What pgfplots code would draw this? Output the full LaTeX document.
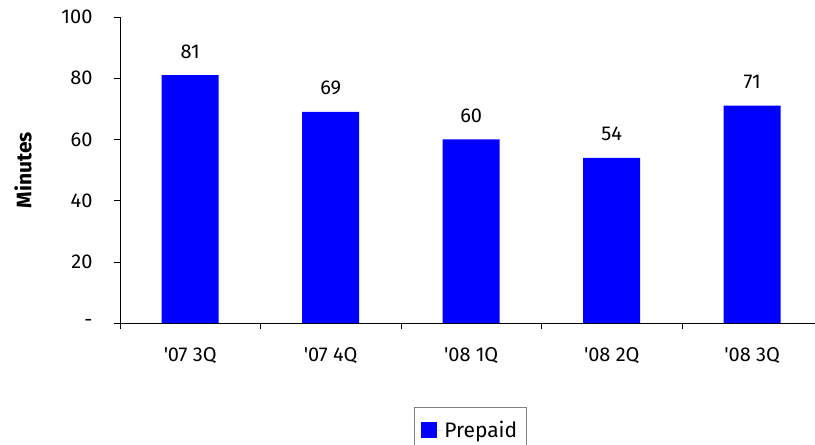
\documentclass[border=0pt]{standalone}
\usepackage{pgfplots}
\pgfplotsset{compat=1.18}
\usepackage{fontspec}
\setmainfont{Fira Sans}
\newfontfamily\fira{Fira Sans}
\definecolor{barblue}{HTML}{0000FF}
\begin{document}
\fira
\begin{tikzpicture}
\useasboundingbox (-120pt,-122pt) rectangle (695pt,323pt);
\begin{axis}[
  at={(0pt,0pt)}, anchor=south west,
  scale only axis,
  width=695pt, height=306pt,
  xmin=-0.5, xmax=4.447,
  ymin=0, ymax=100,
  axis lines*=left,
  axis line style={black, line width=0.6pt},
  ybar, bar width=57pt,
  xtick={-0.5,0.5,1.5,2.5,3.5},
  xticklabels={},
  extra x ticks={0,1,2,3,4},
  extra x tick labels={'07 3Q,'07 4Q,'08 1Q,'08 2Q,'08 3Q},
  extra x tick style={major tick length=0pt, grid=none},
  ytick={0,20,40,60,80,100},
  yticklabels={-,20,40,60,80,100},
  tick style={black, line width=0.6pt},
  major tick length=6pt, tick align=outside,
  tick label style={font=\fira\fontsize{20}{24}\selectfont},
  /pgf/number format/assume math mode=true,
  xticklabel style={yshift=-21pt},
  yticklabel style={xshift=-18pt},
  ylabel={Minutes},
  ylabel style={font=\fira\fontsize{21}{25}\selectfont\bfseries, at={(axis description cs:-0.1396,0.5)}, anchor=center, rotate=0},
  nodes near coords,
  every node near coord/.append style={font=\fira\fontsize{20}{24}\selectfont, anchor=base, yshift=17pt, black},
  legend style={at={(axis description cs:0.504,-0.274)}, anchor=north, draw=gray, line width=0.6pt, font=\fira\fontsize{21}{25}\selectfont, inner xsep=7pt, inner ysep=12pt, legend cell align=left},
  legend image code/.code={\fill[barblue] (0pt,-8pt) rectangle (16pt,8pt); \path (0pt,0pt) -- (21pt,0pt);},
  clip=false,
]
\addplot[fill=barblue, draw=none] coordinates {(0,81) (1,69) (2,60) (3,54) (4,71)};
\legend{Prepaid}
\end{axis}
\end{tikzpicture}
\end{document}
